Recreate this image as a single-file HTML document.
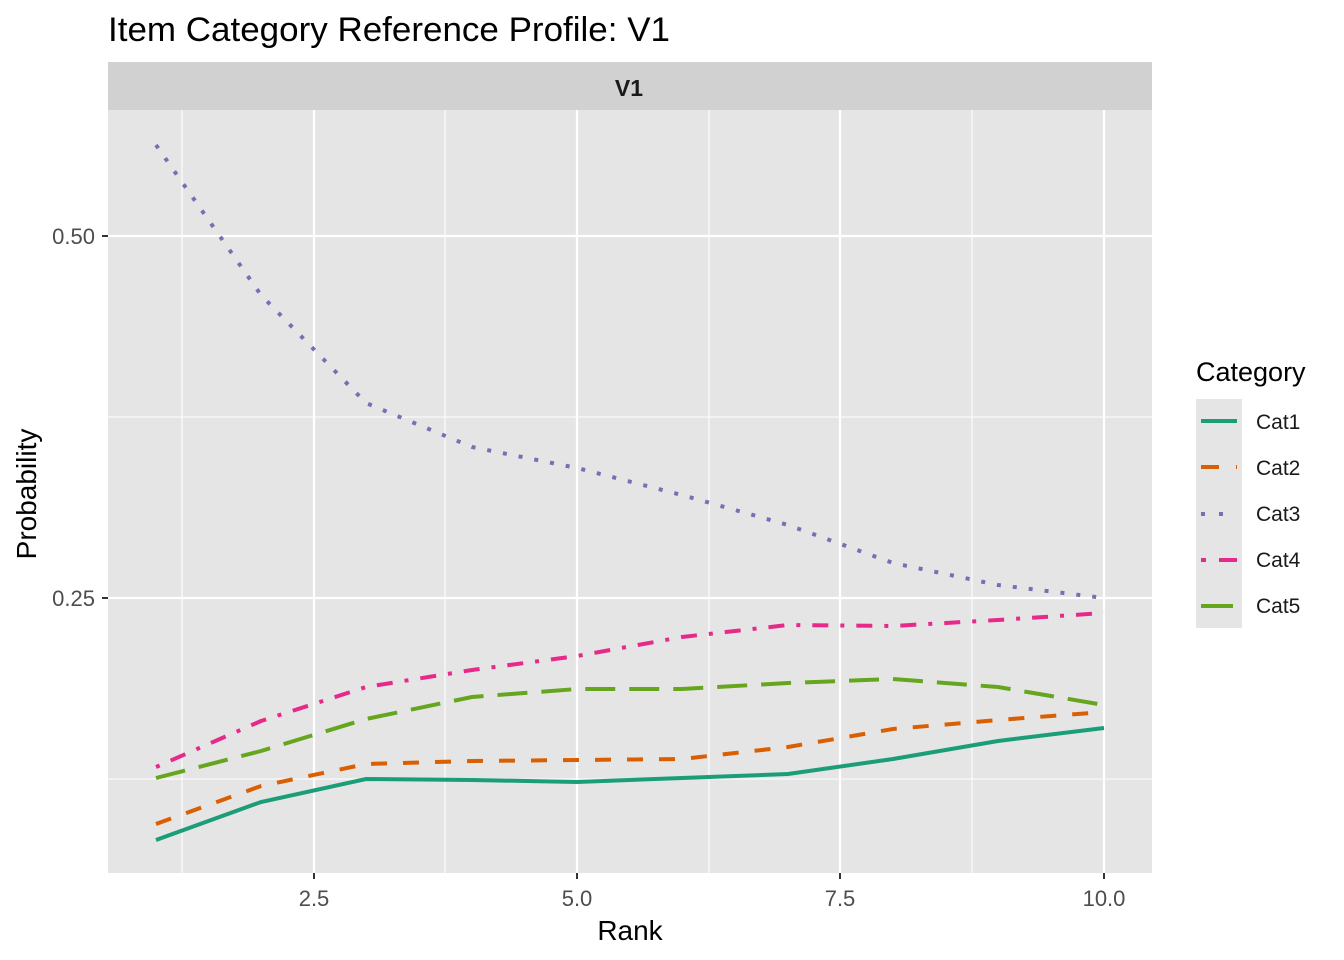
<!DOCTYPE html>
<html><head><meta charset="utf-8"><style>body{margin:0;background:#fff}svg{display:block}</style></head>
<body>
<svg width="1344" height="960" xmlns="http://www.w3.org/2000/svg" font-family="Liberation Sans, sans-serif">
<rect width="1344" height="960" fill="#fff"/>
<text x="108" y="41" font-size="34" fill="#000" textLength="562" lengthAdjust="spacingAndGlyphs">Item Category Reference Profile: V1</text>
<rect x="108" y="62" width="1044" height="48" fill="#d1d1d1"/>
<text x="629" y="96" font-size="23" font-weight="bold" text-anchor="middle" fill="#1a1a1a">V1</text>
<rect x="108" y="110" width="1044" height="763" fill="#e5e5e5"/>
<g stroke="#fff" stroke-width="1.1">
<line x1="182" y1="110" x2="182" y2="873"/><line x1="445" y1="110" x2="445" y2="873"/><line x1="709" y1="110" x2="709" y2="873"/><line x1="972" y1="110" x2="972" y2="873"/>
<line x1="108" y1="417" x2="1152" y2="417"/><line x1="108" y1="779" x2="1152" y2="779"/>
</g>
<g stroke="#fff" stroke-width="2.2">
<line x1="314" y1="110" x2="314" y2="873"/><line x1="577" y1="110" x2="577" y2="873"/><line x1="840" y1="110" x2="840" y2="873"/><line x1="1104" y1="110" x2="1104" y2="873"/>
<line x1="108" y1="236" x2="1152" y2="236"/><line x1="108" y1="598" x2="1152" y2="598"/>
</g>
<g stroke="#333" stroke-width="2">
<line x1="314" y1="873" x2="314" y2="879"/><line x1="577" y1="873" x2="577" y2="879"/><line x1="840" y1="873" x2="840" y2="879"/><line x1="1104" y1="873" x2="1104" y2="879"/>
<line x1="102" y1="236" x2="108" y2="236"/><line x1="102" y1="598" x2="108" y2="598"/>
</g>
<g font-size="22" fill="#4d4d4d">
<text x="314" y="906" text-anchor="middle">2.5</text><text x="577" y="906" text-anchor="middle">5.0</text><text x="840" y="906" text-anchor="middle">7.5</text><text x="1104" y="906" text-anchor="middle">10.0</text>
<text x="95" y="244" text-anchor="end">0.50</text><text x="95" y="606" text-anchor="end">0.25</text>
</g>
<text x="630" y="940" font-size="28" text-anchor="middle">Rank</text>
<text transform="translate(36,494) rotate(-90)" font-size="28" text-anchor="middle">Probability</text>
<g fill="none" stroke-width="4">
<polyline stroke="#1B9E77" points="156,840 261,802 366,779 472,780 577,782 682,778 788,774 893,759 998,741 1104,728"/>
<polyline stroke="#D95F02" stroke-dasharray="16,16" points="156,824 261,786 366,764 472,761 577,760 682,759 788,747 893,729 998,720 1104,712"/>
<polyline stroke="#7570B3" stroke-dasharray="4,12" points="156,145 261,295 366,403 472,447 577,468 682,495 788,525 893,563 998,585 1104,598"/>
<polyline stroke="#E7298A" stroke-dasharray="4,12,16,12" points="156,767 261,721 366,687 472,670 577,656 682,637 788,625 893,626 998,620 1104,613"/>
<polyline stroke="#66A61E" stroke-dasharray="30,14" points="156,778 261,751 366,719 472,697 577,689 682,689 788,683 893,679 998,687 1104,705"/>
</g>
<text x="1196" y="381" font-size="27">Category</text>
<rect x="1196" y="399" width="46" height="229" fill="#e5e5e5"/>
<g fill="none" stroke-width="4">
<line x1="1201" y1="421" x2="1237" y2="421" stroke="#1B9E77"/>
<line x1="1201" y1="467" x2="1237" y2="467" stroke="#D95F02" stroke-dasharray="18,17"/>
<line x1="1201" y1="514" x2="1237" y2="514" stroke="#7570B3" stroke-dasharray="4,14"/>
<line x1="1201" y1="560" x2="1237" y2="560" stroke="#E7298A" stroke-dasharray="5,13,18,13"/>
<line x1="1201" y1="606" x2="1237" y2="606" stroke="#66A61E" stroke-dasharray="32,14"/>
</g>
<g font-size="21" fill="#1a1a1a">
<text x="1256" y="429">Cat1</text><text x="1256" y="475">Cat2</text><text x="1256" y="521">Cat3</text><text x="1256" y="567">Cat4</text><text x="1256" y="613">Cat5</text>
</g>
</svg>
</body></html>
